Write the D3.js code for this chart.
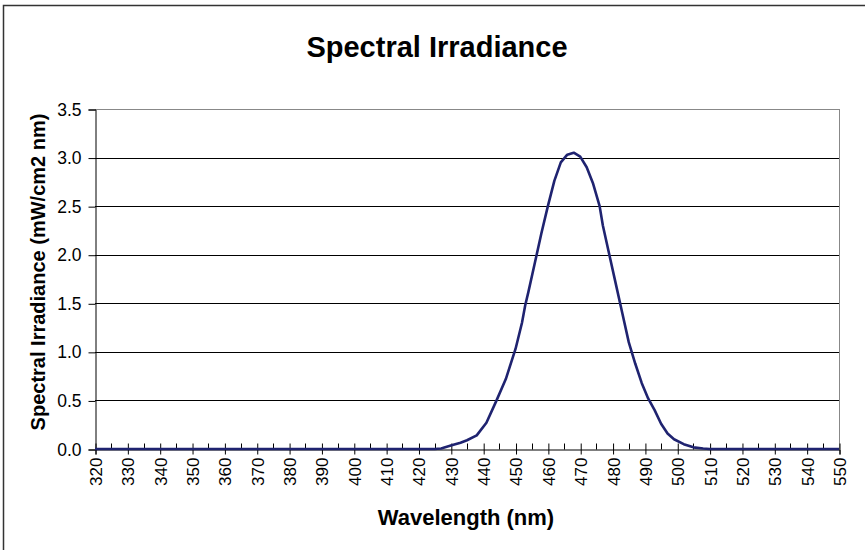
<!DOCTYPE html>
<html>
<head>
<meta charset="utf-8">
<script src="https://cdn.jsdelivr.net/npm/d3@7"></script>
<style>
  body { margin: 0; background: #fff; }
  svg { font-family: "Liberation Sans", Arial, sans-serif; }
</style>
</head>
<body>
<div id="chart"></div>
<script>
// wavelengths (nm) and irradiance (mW/cm2 nm)
var wavelengths = [320, 330, 340, 350, 360, 370, 380, 390, 400, 410, 420, 425,
  427, 430, 433, 435, 438, 441, 444, 447, 450, 452, 453, 454, 456, 458, 460, 462, 464, 466, 468,
  470, 472, 474, 476, 477, 479, 481, 483, 485, 487, 489, 491, 493, 495, 497, 499, 502, 505, 508,
  510, 520, 530, 540, 550];
var irradiance = [0, 0, 0, 0, 0, 0, 0, 0, 0, 0, 0, 0,
  0.005, 0.035, 0.065, 0.09, 0.14, 0.27, 0.49, 0.72, 1.03, 1.30, 1.48, 1.62, 1.92, 2.22, 2.50, 2.76, 2.95, 3.03, 3.05,
  3.01, 2.90, 2.73, 2.50, 2.30, 2.00, 1.70, 1.40, 1.10, 0.88, 0.68, 0.52, 0.40, 0.26, 0.16, 0.10, 0.05, 0.017, 0.005,
  0, 0, 0, 0, 0];
var xTicks = d3.range(320, 551, 10);
var xMinor = d3.range(325, 550, 10);
var yTicks = [0, 0.5, 1.0, 1.5, 2.0, 2.5, 3.0, 3.5];

var W = 865, H = 550;
var plot = { left: 95, right: 839, top: 109, bottom: 449 };

var svg = d3.select('#chart').append('svg')
  .attr('width', W)
  .attr('height', H);

// outer frame (cut off at the right and bottom)
svg.append('rect')
  .attr('x', 3.5).attr('y', 5.5)
  .attr('width', W + 10).attr('height', H + 10)
  .attr('fill', 'none')
  .attr('stroke', '#333')
  .attr('stroke-width', 1.5);

var x = d3.scaleLinear().domain([320, 550]).range([plot.left, plot.right]);
var y = d3.scaleLinear().domain([0, 3.5]).range([plot.bottom, plot.top]);

// gridlines
svg.append('g')
  .selectAll('line')
  .data(yTicks.slice(1))
  .enter().append('line')
  .attr('x1', plot.left).attr('x2', plot.right)
  .attr('y1', d => Math.round(y(d)) + 0.5).attr('y2', d => Math.round(y(d)) + 0.5)
  .attr('stroke', d => d === 3.5 ? '#888' : '#000')
  .attr('stroke-width', 1);

// right border of plot area
svg.append('line')
  .attr('x1', plot.right + 0.5).attr('x2', plot.right + 0.5)
  .attr('y1', plot.top).attr('y2', plot.bottom)
  .attr('stroke', '#888');

// y axis
var yAxis = d3.axisLeft(y)
  .tickValues(yTicks)
  .tickFormat(d3.format('.1f'))
  .tickSize(7)
  .tickPadding(7);
var gy = svg.append('g')
  .attr('transform', 'translate(' + (plot.left + 0.5) + ',0.5)')
  .call(yAxis);
gy.select('.domain').attr('stroke', '#000');
gy.selectAll('.tick line').attr('stroke', '#000');
gy.selectAll('text')
  .attr('font-size', 17.5)
  .attr('fill', '#000')
  .attr('font-family', '"Liberation Sans", Arial, sans-serif');

// x axis
var xAxis = d3.axisBottom(x)
  .tickValues(xTicks)
  .tickSize(5)
  .tickPadding(8);
var gx = svg.append('g')
  .attr('transform', 'translate(0.5,' + (plot.bottom + 0.5) + ')')
  .call(xAxis);
gx.select('.domain').attr('stroke', '#000');
gx.selectAll('.tick line').attr('stroke', '#000').attr('y1', -6);
gx.selectAll('text')
  .attr('font-size', 17)
  .attr('fill', '#000')
  .attr('font-family', '"Liberation Sans", Arial, sans-serif')
  .attr('transform', 'rotate(-90)')
  .attr('text-anchor', 'end')
  .attr('x', -8)
  .attr('y', 0)
  .attr('dy', '0.35em');

// minor ticks (inside)
svg.append('g')
  .selectAll('line')
  .data(xMinor)
  .enter().append('line')
  .attr('x1', d => Math.round(x(d)) + 0.5).attr('x2', d => Math.round(x(d)) + 0.5)
  .attr('y1', plot.bottom - 5.5).attr('y2', plot.bottom + 0.5)
  .attr('stroke', '#000');

// data line
var points = wavelengths.map((w, i) => [w, irradiance[i]]);
var line = d3.line()
  .x(d => x(d[0]))
  .y(d => y(d[1]));
svg.append('path')
  .datum(points)
  .attr('d', line)
  .attr('fill', 'none')
  .attr('stroke', '#1f2370')
  .attr('stroke-width', 2.6)
  .attr('stroke-linejoin', 'round');

// titles
svg.append('text')
  .attr('x', 437).attr('y', 57)
  .attr('text-anchor', 'middle')
  .attr('font-size', 29)
  .attr('font-weight', 'bold')
  .text('Spectral Irradiance');

svg.append('text')
  .attr('x', 466).attr('y', 525)
  .attr('text-anchor', 'middle')
  .attr('font-size', 22)
  .attr('font-weight', 'bold')
  .text('Wavelength (nm)');

svg.append('text')
  .attr('transform', 'translate(45,272) rotate(-90)')
  .attr('text-anchor', 'middle')
  .attr('font-size', 20)
  .attr('font-weight', 'bold')
  .text('Spectral Irradiance (mW/cm2 nm)');
</script>
</body>
</html>
